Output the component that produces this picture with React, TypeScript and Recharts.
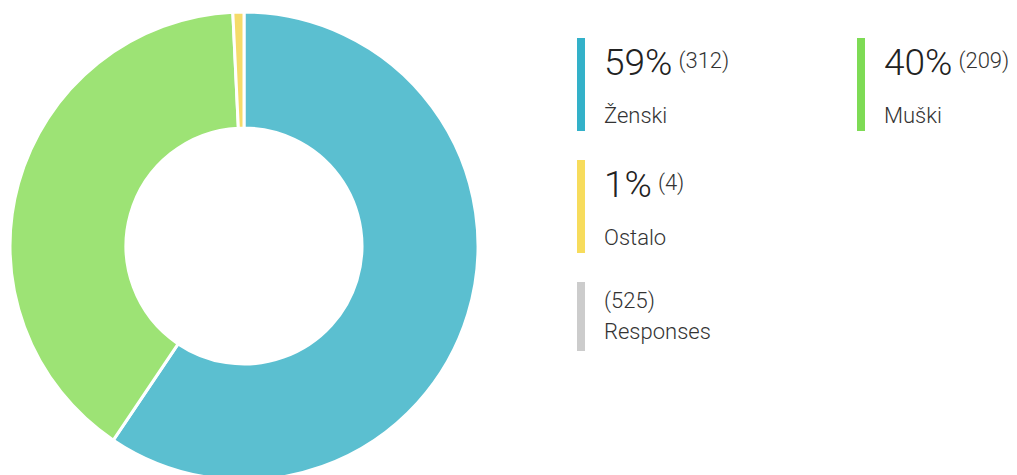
import React from "react";
import { PieChart, Pie, Cell } from "recharts";

const categories = ["Ženski", "Muški", "Ostalo"];
const counts = [312, 209, 4];
const percents = [59, 40, 1];
const sliceColors = ["#5BBFD0", "#9DE375", "#F5DB6A"];
const legendColors = ["#33B1C9", "#7EDB55", "#F7DC5C"];
const totalLabel = "Responses";
const totalCount = 525;
const totalColor = "#CCCCCC";

const data = categories.map((name, i) => ({ name, value: counts[i] }));

const font = "Roboto, 'Noto Sans', sans-serif";

function LegendItem({ color, big, small, label }: { color: string; big?: string; small: string; label: string }) {
  return (
    <div
      style={{
        borderLeft: `8px solid ${color}`,
        paddingLeft: 19,
        width: 253,
        marginBottom: 29,
        boxSizing: "content-box",
      }}
    >
      {big ? (
        <div style={{ height: 62, lineHeight: "46px", whiteSpace: "nowrap" }}>
          <span style={{ fontSize: 37, fontWeight: 300, color: "#222" }}>{big}</span>
          <span style={{ fontSize: 22, fontWeight: 300, color: "#333", marginLeft: 6, verticalAlign: 7 }}>{small}</span>
        </div>
      ) : (
        <div style={{ fontSize: 22, fontWeight: 300, color: "#333", lineHeight: "30px", paddingTop: 4 }}>{small}</div>
      )}
      <div style={{ fontSize: 22, fontWeight: 300, color: "#333", lineHeight: big ? "31px" : "31px", paddingBottom: big ? 0 : 4 }}>{label}</div>
    </div>
  );
}

export default function App() {
  return (
    <div style={{ position: "relative", width: 1001, height: 467, fontFamily: font }}>
      <div style={{ position: "absolute", left: 0, top: 0 }}>
        <PieChart width={480} height={480}>
          <Pie
            data={data}
            dataKey="value"
            nameKey="name"
            cx={231}
            cy={233}
            innerRadius={118}
            outerRadius={234}
            startAngle={90}
            endAngle={-270}
            stroke="#ffffff"
            strokeWidth={3}
            isAnimationActive={false}
          >
            {data.map((d, i) => (
              <Cell key={d.name} fill={sliceColors[i]} />
            ))}
          </Pie>
        </PieChart>
      </div>
      <div
        style={{
          position: "absolute",
          left: 569,
          top: 30,
          width: 600,
          display: "flex",
          flexWrap: "wrap",
          alignItems: "flex-start",
        }}
      >
        {categories.map((c, i) => (
          <LegendItem key={c} color={legendColors[i]} big={`${percents[i]}%`} small={`(${counts[i]})`} label={c} />
        ))}
        <div style={{ width: "100%" }}>
          <LegendItem color={totalColor} small={`(${totalCount})`} label={totalLabel} />
        </div>
      </div>
    </div>
  );
}
